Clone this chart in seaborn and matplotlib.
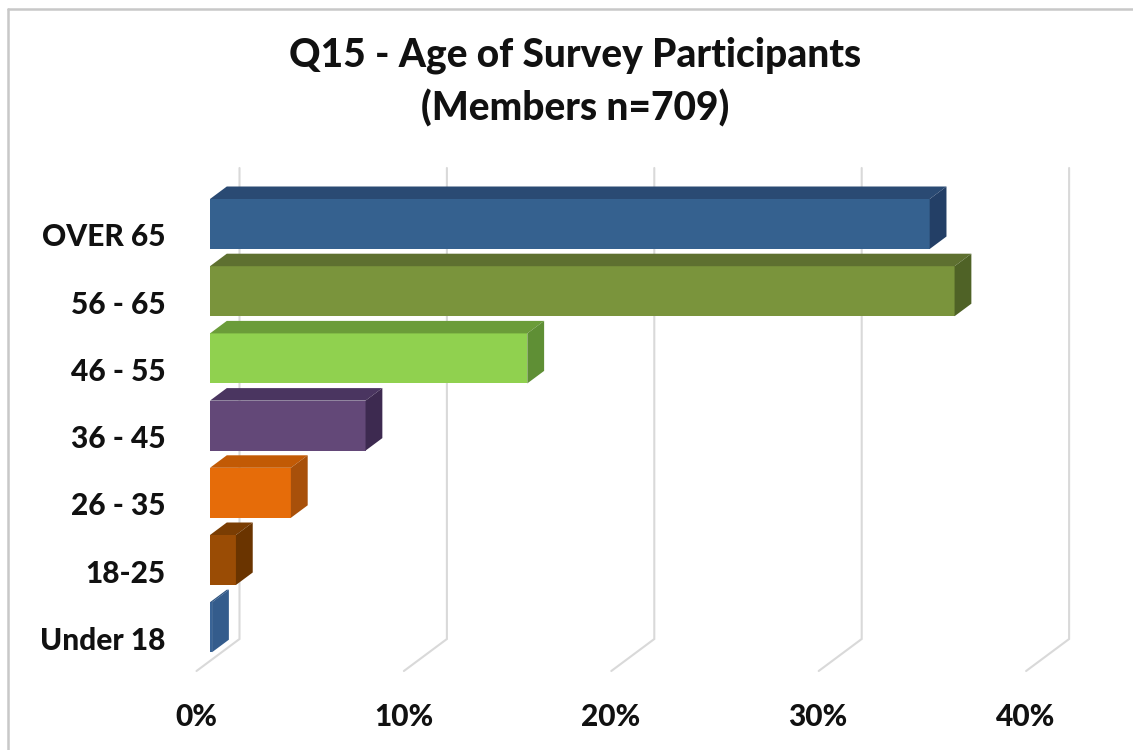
import matplotlib
matplotlib.use('Agg')
import matplotlib.pyplot as plt
from matplotlib.lines import Line2D
from matplotlib.patches import Polygon
from matplotlib.transforms import ScaledTranslation
import seaborn as sns

# values
categories = ['OVER 65', '56 - 65', '46 - 55', '36 - 45', '26 - 35', '18-25', 'Under 18']
percents = [34.7, 35.9, 15.3, 7.5, 3.9, 1.25, 0.1]
tick_values = [0, 10, 20, 30, 40]
tick_labels = ['0%', '10%', '20%', '30%', '40%']
title_text = 'Q15 - Age of Survey Participants\n(Members n=709)'

front_colors = ['#35618F', '#7A943C', '#90D14F', '#634878', '#E66C09', '#9A4C05', '#3A6496']
top_colors = ['#2A4A73', '#5E7030', '#6B9C39', '#4A3560', '#C25A05', '#7A3D03', '#2F5480']
side_colors = ['#233F66', '#4F6226', '#5F8F35', '#3D2A50', '#A8500A', '#6A3400', '#345C8C']

W, H = 1133, 750
PX_X = 20.74   # pixels per percent
PX_Y = 67.2    # pixels per category
X0, Y0 = 210, 224  # pixel of 0% and of the first category

sns.set_theme(style='white')
plt.rcParams['font.family'] = ['Lato', 'DejaVu Sans']

fig = plt.figure(figsize=(W / 100, H / 100), dpi=100)
xlim = (-2, 44)
ylim = (7, -1)
left = X0 + xlim[0] * PX_X
right = X0 + xlim[1] * PX_X
top = Y0 + ylim[1] * PX_Y
bottom = Y0 + ylim[0] * PX_Y
ax = fig.add_axes([left / W, 1 - bottom / H, (right - left) / W, (bottom - top) / H])

# bar depth in data units
dx = 16.8 / PX_X
dy = 12.5 / PX_Y

# back wall and floor lines
grid_color = '#D9D9D9'
back_x = 29.5 / PX_X
front_x = -13.5 / PX_X
wall_top = (168 - Y0) / PX_Y
wall_bottom = (639 - Y0) / PX_Y
floor_front = (671 - Y0) / PX_Y
for v in tick_values:
    ax.plot([v + back_x, v + back_x, v + front_x], [wall_top, wall_bottom, floor_front],
            color=grid_color, lw=1.5, zorder=1, solid_joinstyle='miter')

bar_w = 50 / PX_Y
sns.barplot(x=percents, y=categories, hue=categories, palette=front_colors, dodge=False,
            orient='h', width=bar_w, legend=False, saturation=1, linewidth=0, ax=ax, zorder=3)

# top and side faces
for i, val in enumerate(percents):
    t = i - bar_w / 2
    b = i + bar_w / 2
    ax.add_patch(Polygon([(0, t), (dx, t - dy), (val + dx, t - dy), (val, t)],
                         closed=True, fc=top_colors[i], ec='none', zorder=3))
    ax.add_patch(Polygon([(val, t), (val + dx, t - dy), (val + dx, b - dy), (val, b)],
                         closed=True, fc=side_colors[i], ec='none', zorder=3))

ax.set_xlim(*xlim)
ax.set_ylim(*ylim)
for s in ax.spines.values():
    s.set_visible(False)
ax.set_xlabel('')
ax.set_ylabel('')
ax.set_xticks(tick_values)
ax.set_xticklabels(tick_labels, fontsize=21.5, fontweight='black', color='#111111')
ax.tick_params(axis='both', length=0)
ax.tick_params(axis='x', pad=6)
ax.tick_params(axis='y', pad=0)
for lab in ax.get_yticklabels():
    lab.set_fontsize(21.5)
    lab.set_fontweight('black')
    lab.set_color('#111111')
    lab.set_transform(lab.get_transform() + ScaledTranslation(-3 / 100, -11 / 100, fig.dpi_scale_trans))
for lab in ax.get_xticklabels():
    lab.set_transform(lab.get_transform() + ScaledTranslation(-14 / 100, 0, fig.dpi_scale_trans))

fig.text(575 / W, 1 - 82 / H, title_text, ha='center', va='center', fontsize=28,
         fontweight='black', color='#111111', linespacing=1.52)

# chart frame
frame = '#C8C8C8'
fig.add_artist(Line2D([8 / W, 1], [1 - 8.5 / H, 1 - 8.5 / H], color=frame, lw=1.8))
fig.add_artist(Line2D([8 / W, 8 / W], [0, 1 - 8.5 / H], color=frame, lw=1.8))

plt.savefig('out.png', dpi=100)
